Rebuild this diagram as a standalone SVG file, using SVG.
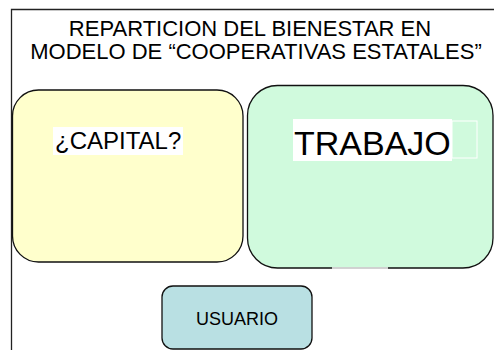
<svg xmlns="http://www.w3.org/2000/svg" width="494" height="350" viewBox="0 0 494 350">
<style>
text{font-family:"Liberation Sans",Arial,sans-serif;fill:#000}
.box{stroke:#111;stroke-width:1.3}
</style>
<rect x="0" y="0" width="494" height="350" fill="#fff"/>
<g id="frame">
<path d="M11.5 350 V9.5 H494" fill="none" stroke="#222" stroke-width="1.3"/>
</g>
<g id="title">
<text x="250" y="36" font-size="22" text-anchor="middle">REPARTICION DEL BIENESTAR EN</text>
<text x="256" y="59" font-size="22" text-anchor="middle">MODELO DE “COOPERATIVAS ESTATALES”</text>
</g>
<g id="capital">
<rect class="box" x="12.5" y="90" width="230.5" height="172" rx="26" fill="#FFFFCC"/>
<rect x="53" y="127" width="130" height="28" fill="#fff"/>
<text x="55" y="149" font-size="24">¿CAPITAL?</text>
</g>
<g id="trabajo">
<rect class="box" x="247.5" y="85.5" width="245.5" height="182.5" rx="30" fill="#D0FADD"/>
<line x1="332" y1="268" x2="388" y2="268" stroke="#fff" stroke-width="1.5"/>
<rect x="452" y="121" width="25" height="37" fill="none" stroke="#fff" stroke-width="1"/>
<rect x="293" y="119" width="159" height="42" fill="#fff"/>
<text x="294" y="155" font-size="34">TRABAJO</text>
</g>
<g id="usuario">
<rect class="box" x="162" y="286" width="150" height="63" rx="11" fill="#B9E0E3"/>
<text x="237" y="325" font-size="18" text-anchor="middle">USUARIO</text>
</g>
<g id="connectors"></g>
</svg>
